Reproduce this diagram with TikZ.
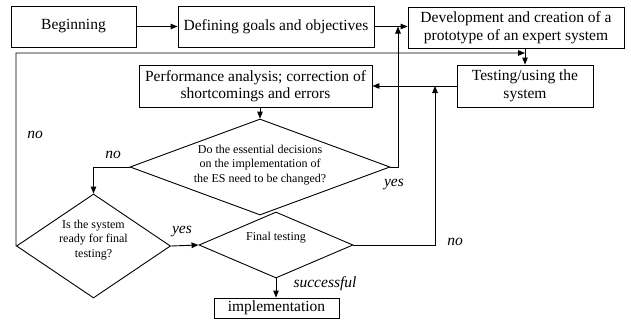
\documentclass[tikz,border=0pt]{standalone}
\usepackage{fontspec}
\setmainfont{Liberation Serif}
\usetikzlibrary{shapes.geometric,arrows.meta}
\begin{document}
\begin{tikzpicture}[x=1pt,y=-1pt,line width=0.9pt,
  box/.style={draw,rectangle,align=center,inner sep=1pt,font=\fontsize{15.5}{17.5}\selectfont},
  dec/.style={draw,diamond,inner sep=0pt},
  dtext/.style={align=center,inner sep=0pt,font=\fontsize{12}{14.5}\selectfont},
  lab/.style={font=\fontsize{15.5}{17}\selectfont\itshape,inner sep=0pt},
  arr/.style={-{Triangle[length=7pt,width=5.5pt]}}]
\useasboundingbox (0,0) rectangle (631,322);
% boxes
\node[box,minimum width=125pt,minimum height=41pt] (begin) at (73.5,26.5) {Beginning};
\node[box,minimum width=196pt,minimum height=41pt] (goals) at (276,26.5) {Defining goals and objectives};
\node[box,minimum width=216pt,minimum height=41pt] (dev) at (516,27.5) {Development and creation of a\\prototype of an expert system};
\node[box,minimum width=233pt,minimum height=42pt] (perf) at (255.5,86) {Performance analysis; correction of\\shortcomings and errors};
\node[box,minimum width=136pt,minimum height=42pt] (test) at (525,86) {Testing/using the\\system};
\node[box,minimum width=125pt,minimum height=20pt,inner sep=0pt] (impl) at (276.5,308) {implementation};
% diamonds
\node[dec,minimum width=260pt,minimum height=96pt] (decide) at (260,167) {};
\node[dtext] (decidet) at (260,165) {Do the essential decisions\\on the implementation of\\the ES need to be changed?};
\node[dec,minimum width=154pt,minimum height=104pt] (ready) at (93.5,246) {};
\node[dtext] (readyt) at (93.5,240) {Is the system\\ready for final\\testing?};
\node[dec,minimum width=154pt,minimum height=66pt] (final) at (276,245) {};
\node[dtext] (finalt) at (276,238) {Final testing};
% helper coordinates
\coordinate (upy) at (398,167);
\coordinate (loopl) at (16,53);
\coordinate (loopr) at (525,53);
\coordinate (nox) at (435,245);
% connectors
\draw[arr] (begin) -- (goals);
\draw[arr] (goals.east) -- (goals.east -| dev.west);
\draw[arr] (test.north |- dev.south) -- (test.north);
\draw[arr] (test.west) -- (perf.east);
\draw[arr] (decide.north |- perf.south) -- (decide.north);
\draw[arr] (decide.west) -| (ready.north);
\draw[arr] (decide.east) -- (upy) -- (upy |- goals.east);
\draw[arr] (ready.west) -- (loopl) -- (loopr);
\draw[arr] (ready.east) -- (final.west);
\draw[arr] (final.east) -- (nox) -- (nox |- test.west);
\draw[arr] (final.south) -- (final.south |- impl.north);
% labels
\node[lab] (lno1) at (35,135) {no};
\node[lab] (lno2) at (113,155) {no};
\node[lab] (lyes1) at (394,185) {yes};
\node[lab] (lyes2) at (182,232) {yes};
\node[lab] (lno3) at (455,242) {no};
\node[lab] (lsucc) at (325,284) {successful};
\end{tikzpicture}
\end{document}
